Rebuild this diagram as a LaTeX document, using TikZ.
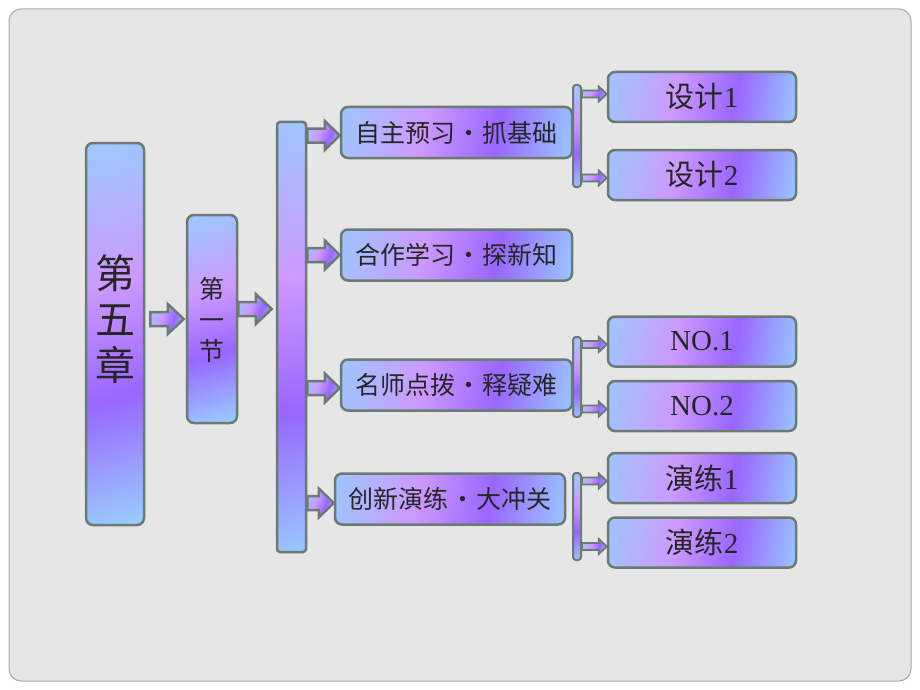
\documentclass[tikz,border=0pt]{standalone}
\usepackage{fontspec}
\setmainfont{Liberation Serif}
\newfontfamily\cjk{Noto Sans CJK SC}
\usetikzlibrary{calc}
\definecolor{edge}{HTML}{6B7A72}
\definecolor{sA}{HTML}{C4CCFA}
\definecolor{sB}{HTML}{99CCFF}
\definecolor{sC}{HTML}{CC99FF}
\definecolor{sD}{HTML}{9966FF}
\definecolor{bgfill}{HTML}{E6E6E6}
\definecolor{bgedge}{HTML}{A8A8A8}
\pgfdeclarehorizontalshading{lilac}{100bp}{color(0bp)=(sA); color(18bp)=(sB); color(42bp)=(sC); color(60bp)=(sD); color(80bp)=(sB); color(100bp)=(sA)}
\tikzset{
  gbox/.style={draw=edge, line width=2.5pt, rounded corners=7pt, shading=lilac, shading angle=-10, inner sep=0pt, text=black!85},
  wide/.style={gbox, minimum width=231pt, minimum height=51pt, font=\cjk\fontsize{25}{30}\selectfont},
  leaf/.style={gbox, minimum width=188pt, minimum height=50pt, font=\fontsize{29}{32}\selectfont},
  tall/.style={gbox, shading angle=-75},
  barstyle/.style={draw=edge, line width=2pt, rounded corners=3pt, shading=lilac, shading angle=-80, inner sep=0pt},
  blockarrow/.style={draw=edge, line width=2.5pt, shading=lilac, shading angle=-20, line join=miter},
  smallarrow/.style={draw=edge, line width=1.8pt, shading=lilac, shading angle=-20, line join=miter},
  vtext/.style={text=black!85, align=center, inner sep=0pt}
}
\newcommand\barrow[6][blockarrow]{%
  \path[#1] let \p1=(#2), \p2=(#3) in
    (\x1,\y1+#4pt) -- (\x2-#6pt,\y1+#4pt) -- (\x2-#6pt,\y1+#5pt) -- (\x2,\y1)
    -- (\x2-#6pt,\y1-#5pt) -- (\x2-#6pt,\y1-#4pt) -- (\x1,\y1-#4pt) -- cycle;}
\newcommand\dotsep{\makebox[1.1em]{·}}
\begin{document}
\begin{tikzpicture}[x=1pt,y=-1pt]
\useasboundingbox (0,0) rectangle (920,690);
\fill[white] (0,0) rectangle (920,690);
\draw[rounded corners=12pt, fill=bgfill, draw=bgedge, line width=1pt] (9,9) rectangle (911,681);

% main boxes
\node[tall, minimum width=58pt, minimum height=382pt] (ch5) at (115,334) {};
\node[vtext, font=\cjk\fontsize{40}{46}\selectfont] (ch5t) at (115,319) {第\\五\\章};
\node[tall, minimum width=50pt, minimum height=208pt] (sec1) at (212,319) {};
\node[vtext, font=\cjk\fontsize{25}{31}\selectfont] (sec1t) at (212,320) {第\\一\\节};
\node[barstyle, line width=2.5pt, minimum width=29pt, minimum height=430pt] (bar) at (291.5,337) {};

% level 2
\node[wide] (L2a) at (456.5,132.5) {自主预习\dotsep 抓基础};
\node[wide] (L2b) at (456.5,255) {合作学习\dotsep 探新知};
\node[wide] (L2c) at (456.5,385) {名师点拨\dotsep 释疑难};
\node[wide, minimum width=230pt] (L2d) at (450,499) {创新演练\dotsep 大冲关};

% brackets
\node[barstyle, minimum width=8pt, minimum height=102pt] (brk1) at (577,136) {};
\node[barstyle, minimum width=8pt, minimum height=80pt] (brk2) at (577,377) {};
\node[barstyle, minimum width=8pt, minimum height=87pt] (brk3) at (577,516.5) {};

% level 3
\node[leaf] (L3a) at (702,97) {{\cjk 设计}1};
\node[leaf] (L3b) at (702,175) {{\cjk 设计}2};
\node[leaf] (L3c) at (702,341.5) {NO.1};
\node[leaf] (L3d) at (702,406) {NO.2};
\node[leaf] (L3e) at (702,478) {{\cjk 演练}1};
\node[leaf] (L3f) at (702,542.5) {{\cjk 演练}2};

% big arrows
\barrow{$(ch5.east |- sec1.west)+(5,0)$}{$(sec1.west)+(-2,0)$}{7}{15}{16}
\barrow{$(sec1.east)+(0,-10)$}{$(bar.west)+(-4,0)$}{7}{15}{16}
\barrow{$(bar.east |- L2a.west)+(0,3)$}{L2a.west}{7}{14.5}{15}
\barrow{bar.east |- L2b.west}{L2b.west}{7}{14.5}{15}
\barrow{$(bar.east |- L2c.west)+(0,3)$}{L2c.west}{7}{14.5}{15}
\barrow{$(bar.east |- L2d.west)+(0,4)$}{L2d.west}{7}{14.5}{15}

% small arrows
\barrow[smallarrow]{$(brk1.east |- L3a.west)+(0,-3)$}{L3a.west}{3.5}{7.5}{8}
\barrow[smallarrow]{$(brk1.east |- L3b.west)+(0,3)$}{L3b.west}{3.5}{7.5}{8}
\barrow[smallarrow]{$(brk2.east |- L3c.west)+(0,3)$}{L3c.west}{3.5}{7.5}{8}
\barrow[smallarrow]{$(brk2.east |- L3d.west)+(0,3)$}{L3d.west}{3.5}{7.5}{8}
\barrow[smallarrow]{$(brk3.east |- L3e.west)+(0,3)$}{L3e.west}{3.5}{7.5}{8}
\barrow[smallarrow]{$(brk3.east |- L3f.west)+(0,4)$}{L3f.west}{3.5}{7.5}{8}
\end{tikzpicture}
\end{document}
